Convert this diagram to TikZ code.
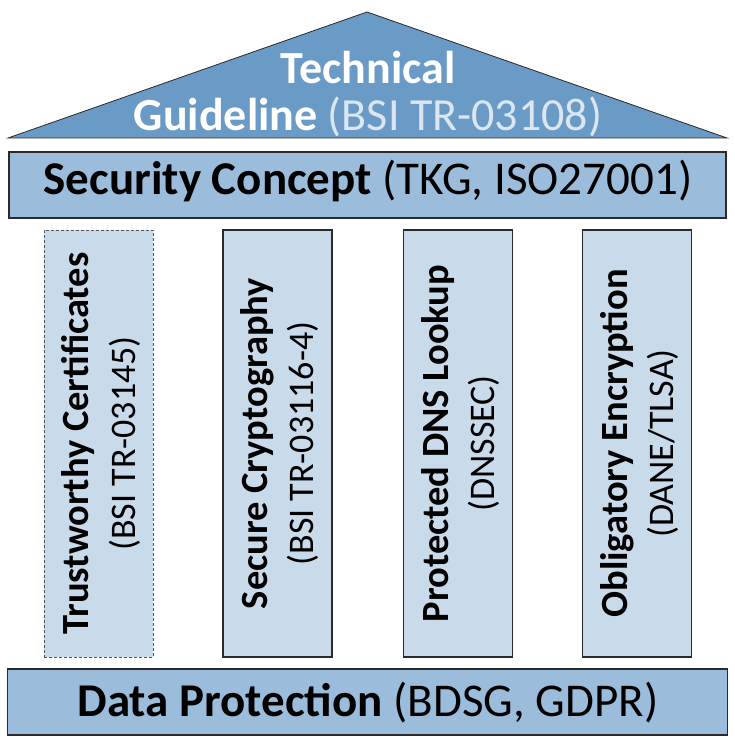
\documentclass[tikz,border=0pt]{standalone}
\usepackage{fontspec}
\setmainfont{Carlito}
\definecolor{roofblue}{HTML}{6A9AC6}
\definecolor{beamblue}{HTML}{9CBCDB}
\definecolor{pillarblue}{HTML}{C9DBEB}
\definecolor{edge}{HTML}{2A2A2A}
\definecolor{paren}{HTML}{DCE6F0}
\tikzset{
  roof/.style={fill=roofblue,draw=edge,line width=0.8pt},
  beam/.style={fill=beamblue,draw=edge,line width=1.3pt,minimum width=717pt,inner sep=0pt},
  pillar/.style={fill=pillarblue,draw=edge,line width=1.3pt,minimum width=109pt,minimum height=427pt,inner sep=0pt},
  bigtext/.style={anchor=base,inner sep=0pt,font=\fontsize{47}{50}\selectfont},
  pbold/.style={rotate=90,anchor=base,inner sep=0pt,font=\fontsize{38.5}{40}\selectfont\bfseries},
  preg/.style={rotate=90,anchor=base,inner sep=0pt,font=\fontsize{36}{40}\selectfont},
}
\begin{document}
\begin{tikzpicture}[x=1pt,y=1pt]
\useasboundingbox (0,0) rectangle (735,737);
% roof
\coordinate (rl) at (8,599);
\coordinate (rr) at (727,599);
\coordinate (ra) at (367,725);
\draw[roof] (rl) -- (ra) -- (rr) -- cycle;
\node[bigtext,text=white,font=\fontsize{46}{50}\selectfont\bfseries] (roof1) at (368,653) {Technical};
\node[bigtext,text=white,font=\fontsize{46}{50}\selectfont] (roof2) at (368,606)
  {\textbf{Guideline} {\color{paren}(BSI TR-03108)}};
% security concept
\node[beam,minimum height=66pt] (sec) at (367.5,552) {};
\node[bigtext] (secT) at (368,542) {\textbf{Security Concept} (TKG, ISO27001)};
% pillars
\node[pillar,draw=edge!80,line width=0.8pt,densely dashed] (p1) at (98.5,293.5) {};
\node[pillar] (p2) at (277.5,293.5) {};
\node[pillar] (p3) at (458,293.5) {};
\node[pillar] (p4) at (637,293.5) {};
\node[pbold] (p1a) at (88,293.5) {Trustworthy Certificates};
\node[preg]  (p1b) at (135,293.5) {(BSI TR-03145)};
\node[pbold] (p2a) at (267,293.5) {Secure Cryptography};
\node[preg]  (p2b) at (313,293.5) {(BSI TR-03116-4)};
\node[pbold] (p3a) at (448,293.5) {Protected DNS Lookup};
\node[preg]  (p3b) at (494,293.5) {(DNSSEC)};
\node[pbold] (p4a) at (627,293.5) {Obligatory Encryption};
\node[preg]  (p4b) at (673,293.5) {(DANE/TLSA)};
% data protection
\node[beam,minimum width=720pt,minimum height=66pt] (dp) at (367.5,35) {};
\node[bigtext] (dpT) at (368,20) {\textbf{Data Protection} (BDSG, GDPR)};
\end{tikzpicture}
\end{document}
